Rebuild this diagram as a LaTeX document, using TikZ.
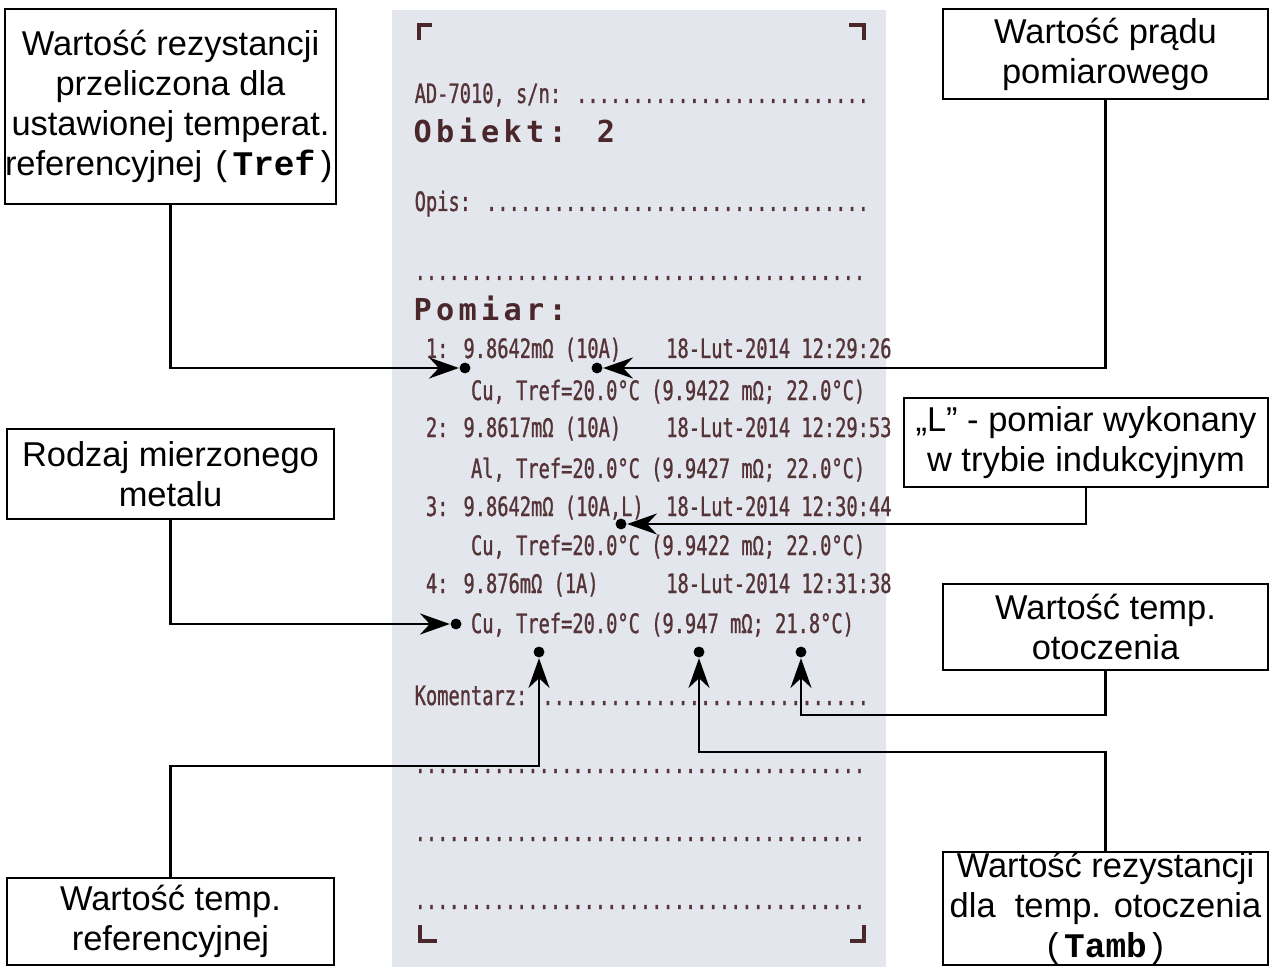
\documentclass[tikz,border=0pt]{standalone}
\usepackage{fontspec}
\setmainfont{Liberation Sans}
\setmonofont{Liberation Mono}
\newfontfamily\printfont{DejaVu Sans Mono}[FakeStretch=0.70,FakeBold=1,WordSpace={1,0,0}]
\newfontfamily\printboldfont{DejaVu Sans Mono}[LetterSpace=14.2,WordSpace={1,0,0}]
\usetikzlibrary{arrows.meta,positioning,calc}
\definecolor{paperbg}{HTML}{E4E6EE}
\definecolor{printink}{HTML}{553438}
\definecolor{printdark}{HTML}{4A272B}

\begin{document}
\begin{tikzpicture}[x=0.01cm,y=-0.01cm,
    callout/.style={draw=black,line width=0.6pt,fill=white,align=center,inner sep=0pt,
      font=\fontsize{9.8pt}{11.4pt}\selectfont},
    conn/.style={line width=0.6pt,-{Stealth[length=8.5pt,width=6pt,inset=2.8pt]}},
    pindot/.style={circle,fill=black,inner sep=0pt,minimum size=3.1pt},
    rline/.style={anchor=base west,inner sep=0pt,text=printink,
      font={\printfont\fontsize{7.6pt}{8pt}\selectfont}},
    rbold/.style={anchor=base west,inner sep=0pt,text=printdark,
      font={\printboldfont\bfseries\fontsize{8.6pt}{9pt}\selectfont}},
    corner/.style={printdark,line width=1pt}]
  \useasboundingbox (0,0) rectangle (1270,967);
  \fill[white] (0,0) rectangle (1270,967);
  \fill[paperbg] (392,10) rectangle (886,967);

  % printout
  \draw[corner] (419,40) -- (419,25) -- (432,25);
  \draw[corner] (849,25) -- (864,25) -- (864,40);
  \draw[corner] (420,925) -- (420,941) -- (437,941);
  \draw[corner] (850,941) -- (864,941) -- (864,925);
  \node[rline] (sn) at (414,103) {AD-7010, s/n: ..........................};
  \node[rbold] (obj) at (413,143) {Obiekt: 2};
  \node[rline] (opis) at (414,211) {Opis: ..................................};
  \node[rline] (opis2) at (414,280) {........................................};
  \node[rbold] (pom) at (413,321) {Pomiar:};
  \node[rline] (m1a) at (414,358) {~1: 9.8642mΩ (10A)~~~~18-Lut-2014 12:29:26};
  \node[rline] (m1b) at (414,400) {~~~~~Cu, Tref=20.0°C (9.9422 mΩ; 22.0°C)};
  \node[rline] (m2a) at (414,437) {~2: 9.8617mΩ (10A)~~~~18-Lut-2014 12:29:53};
  \node[rline] (m2b) at (414,478) {~~~~~Al, Tref=20.0°C (9.9427 mΩ; 22.0°C)};
  \node[rline] (m3a) at (414,516) {~3: 9.8642mΩ (10A,L)~~18-Lut-2014 12:30:44};
  \node[rline] (m3b) at (414,555) {~~~~~Cu, Tref=20.0°C (9.9422 mΩ; 22.0°C)};
  \node[rline] (m4a) at (414,593) {~4: 9.876mΩ (1A)~~~~~~18-Lut-2014 12:31:38};
  \node[rline] (m4b) at (414,633) {~~~~~Cu, Tref=20.0°C (9.947 mΩ; 21.8°C)};
  \node[rline] (kom) at (414,705) {Komentarz: .............................};
  \node[rline] (kom2) at (414,773) {........................................};
  \node[rline] (kom3) at (414,841) {........................................};
  \node[rline] (kom4) at (414,909) {........................................};

  % callouts
  \node[callout,minimum width=3.27cm,minimum height=1.95cm] (tref) at (170.5,106.5)
    {Wartość rezystancji\\przeliczona dla\\ustawionej temperat.\\referencyjnej \texttt{(\textbf{Tref})}};
  \node[callout,minimum width=3.25cm,minimum height=0.9cm] (prad) at (1105.5,54)
    {Wartość prądu\\pomiarowego};
  \node[callout,minimum width=3.64cm,minimum height=0.89cm] (indukc) at (1086,442.5)
    {„L” - pomiar wykonany\\w trybie indukcyjnym};
  \node[callout,minimum width=3.27cm,minimum height=0.9cm] (metal) at (170.5,474)
    {Rodzaj mierzonego\\metalu};
  \node[callout,minimum width=3.25cm,minimum height=0.86cm] (otocz) at (1105.5,627)
    {Wartość temp.\\otoczenia};
  \node[callout,minimum width=3.25cm,minimum height=1.13cm] (ramb) at (1105.5,908.5)
    {Wartość rezystancji\\dla\ \ temp. otoczenia\\\texttt{(\textbf{Tamb})}};
  \node[callout,minimum width=3.27cm,minimum height=0.87cm] (tempref) at (170.5,921.5)
    {Wartość temp.\\referencyjnej};

  \node[pindot] (d1) at (465,368) {};
  \node[pindot] (d2) at (597,368) {};
  \node[pindot] (d3) at (621,524) {};
  \node[pindot] (d4) at (456,624) {};
  \node[pindot] (d5) at (801,652) {};
  \node[pindot] (d6) at (699,652) {};
  \node[pindot] (d7) at (539,652) {};

  \draw[conn] (tref.south) |- (d1);
  \draw[conn] (prad.south) |- (d2);
  \draw[conn] (indukc.south) |- (d3);
  \draw[conn] (metal.south) |- (d4);
  \draw[conn] (otocz.south) -- ++(0,44) -| (d5);
  \draw[conn] (ramb.north) -- ++(0,-99) -| (d6);
  \draw[conn] (tempref.north) -- ++(0,-111) -| (d7);
\end{tikzpicture}
\end{document}
